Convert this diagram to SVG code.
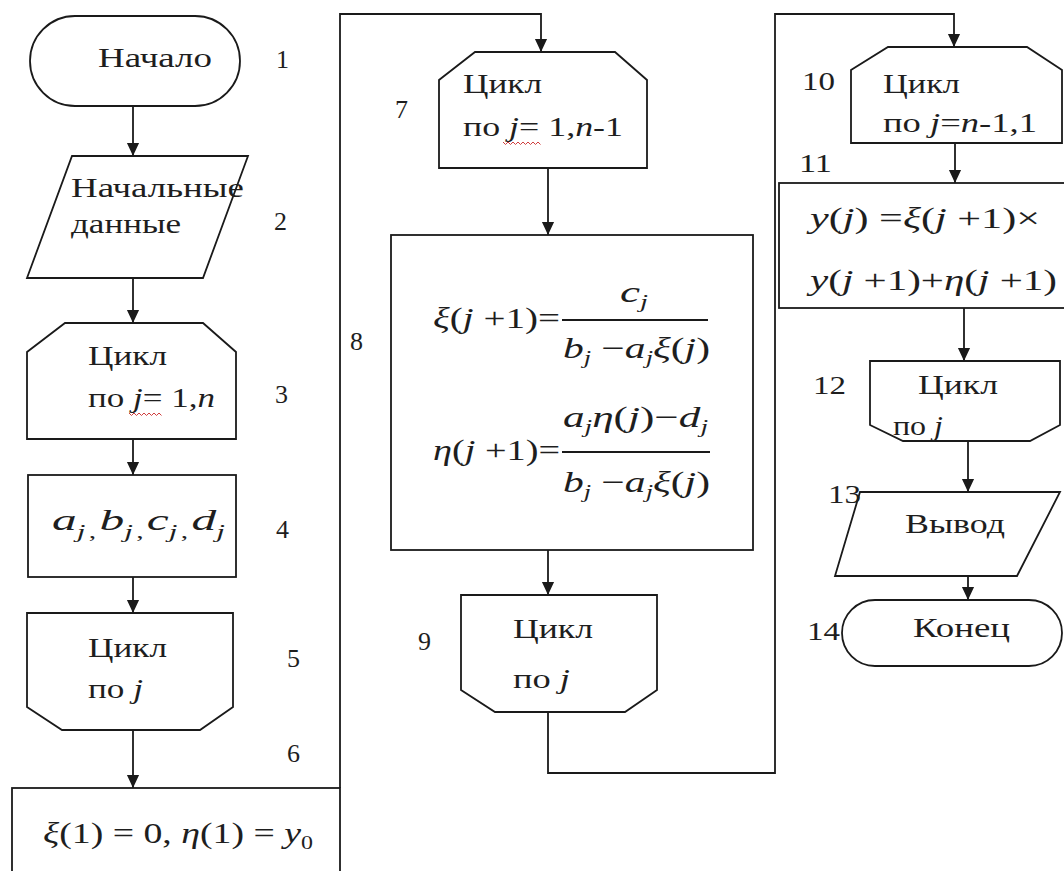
<svg xmlns="http://www.w3.org/2000/svg" width="1064" height="871" viewBox="0 0 1064 871">
<style>
.s{fill:#fff;stroke:#1a1a1a;stroke-width:1.8}
.c{fill:none;stroke:#1a1a1a;stroke-width:1.8}
.t{font-family:'Liberation Serif','DejaVu Serif',serif;font-size:27px;fill:#1e1e1e}
.n{font-family:'Liberation Serif','DejaVu Serif',serif;font-size:26px;fill:#1e1e1e}
.m{font-family:'Liberation Serif','DejaVu Serif',serif;font-size:30px;fill:#1e1e1e}
.i{font-style:italic}
.sub{font-size:19px;font-style:italic}
.w{fill:none;stroke:#d04040;stroke-width:1}
</style>
<defs>
<marker id="a" markerUnits="userSpaceOnUse" markerWidth="14" markerHeight="16" refX="15" refY="7" orient="auto" viewBox="0 0 16 14">
<path d="M0,0 L15,7 L0,14 Z" fill="#1a1a1a"/>
</marker>
</defs>

<g id="connectors">
<path class="c" marker-end="url(#a)" d="M133,107 V156"/>
<path class="c" marker-end="url(#a)" d="M133,278 V323"/>
<path class="c" marker-end="url(#a)" d="M133,439 V475"/>
<path class="c" marker-end="url(#a)" d="M133,577 V613"/>
<path class="c" marker-end="url(#a)" d="M133,730 V788"/>
<path class="c" marker-end="url(#a)" d="M340,788 V14 H541 V52"/>
<path class="c" marker-end="url(#a)" d="M548,168 V235"/>
<path class="c" marker-end="url(#a)" d="M548,550 V595"/>
<path class="c" marker-end="url(#a)" d="M548,712 V773 H775 V14 H954 V47"/>
<path class="c" marker-end="url(#a)" d="M955,143 V183"/>
<path class="c" marker-end="url(#a)" d="M964,308 V361"/>
<path class="c" marker-end="url(#a)" d="M968,441 V492"/>
<path class="c" marker-end="url(#a)" d="M968,576 V600"/>
</g>

<g id="node1">
<rect class="s" x="30" y="16" width="210" height="90" rx="45" ry="45"/>
<text class="t" x="98" y="67" textLength="114" lengthAdjust="spacingAndGlyphs">Начало</text>
<text class="n" x="276" y="68">1</text>
</g>

<g id="node2">
<polygon class="s" points="72,156 248,156 203,278 27,278"/>
<text class="t" x="71" y="197" textLength="173" lengthAdjust="spacingAndGlyphs">Начальные</text>
<text class="t" x="71" y="233" textLength="110" lengthAdjust="spacingAndGlyphs">данные</text>
<text class="n" x="274" y="230">2</text>
</g>

<g id="node3">
<polygon class="s" points="65,323 203,323 236,352 236,439 27,439 27,352"/>
<text class="t" x="88" y="365" textLength="79" lengthAdjust="spacingAndGlyphs">Цикл</text>
<text class="t" x="88" y="407" textLength="127" lengthAdjust="spacingAndGlyphs">по <tspan class="i">j</tspan>= 1,<tspan class="i">n</tspan></text>
<path class="w" d="M129,413 l2.5,2.5 l2.5,-2.5 l2.5,2.5 l2.5,-2.5 l2.5,2.5 l2.5,-2.5 l2.5,2.5 l2.5,-2.5 l2.5,2.5 l2.5,-2.5 l2.5,2.5 l2.5,-2.5 l2.5,2.5"/>
<text class="n" x="275" y="403">3</text>
</g>

<g id="node4">
<rect class="s" x="28" y="475" width="208" height="102"/>
<text class="m" x="52" y="530" textLength="173" lengthAdjust="spacingAndGlyphs"><tspan class="i">a</tspan><tspan class="sub" dy="8">j</tspan><tspan font-size="18" dx="2">,</tspan><tspan class="i" dy="-8" dx="2">b</tspan><tspan class="sub" dy="8">j</tspan><tspan font-size="18" dx="2">,</tspan><tspan class="i" dy="-8" dx="2">c</tspan><tspan class="sub" dy="8">j</tspan><tspan font-size="18" dx="2">,</tspan><tspan class="i" dy="-8" dx="2">d</tspan><tspan class="sub" dy="8">j</tspan></text>
<text class="n" x="276" y="538">4</text>
</g>

<g id="node5">
<polygon class="s" points="27,613 233,613 233,707 200,730 62,730 27,707"/>
<text class="t" x="88" y="657" textLength="79" lengthAdjust="spacingAndGlyphs">Цикл</text>
<text class="t" x="88" y="698" textLength="55" lengthAdjust="spacingAndGlyphs">по <tspan class="i">j</tspan></text>
<text class="n" x="287" y="667">5</text>
</g>

<g id="node6">
<rect class="s" x="12" y="788" width="328" height="95"/>
<text class="m" x="43" y="843" textLength="270" lengthAdjust="spacingAndGlyphs"><tspan class="i">ξ</tspan>(1) = 0, <tspan class="i">η</tspan>(1) = <tspan class="i">y</tspan><tspan font-size="19" dy="6">0</tspan></text>
<text class="n" x="287" y="762">6</text>
</g>

<g id="node7">
<polygon class="s" points="475,52 615,52 647,80 647,168 439,168 439,80"/>
<text class="t" x="463" y="93" textLength="79" lengthAdjust="spacingAndGlyphs">Цикл</text>
<text class="t" x="463" y="136" textLength="160" lengthAdjust="spacingAndGlyphs">по <tspan class="i">j</tspan>= 1,<tspan class="i">n</tspan>-1</text>
<path class="w" d="M503,142 l2.5,2.5 l2.5,-2.5 l2.5,2.5 l2.5,-2.5 l2.5,2.5 l2.5,-2.5 l2.5,2.5 l2.5,-2.5 l2.5,2.5 l2.5,-2.5 l2.5,2.5 l2.5,-2.5 l2.5,2.5 l2.5,-2.5 l2.5,2.5"/>
<text class="n" x="395" y="118">7</text>
</g>

<g id="node8">
<rect class="s" x="391" y="235" width="362" height="315"/>
<text class="m" x="433" y="328" textLength="127" lengthAdjust="spacingAndGlyphs"><tspan class="i">ξ</tspan>(<tspan class="i">j</tspan> +1)=</text>
<text class="m" x="620" y="302" textLength="28" lengthAdjust="spacingAndGlyphs"><tspan class="i">c</tspan><tspan class="sub" dy="6">j</tspan></text>
<line class="c" x1="562" y1="320" x2="708" y2="320"/>
<text class="m" x="563" y="358" textLength="147" lengthAdjust="spacingAndGlyphs"><tspan class="i">b</tspan><tspan class="sub" dy="6">j</tspan><tspan dy="-6"> −</tspan><tspan class="i">a</tspan><tspan class="sub" dy="6">j</tspan><tspan class="i" dy="-6">ξ</tspan>(<tspan class="i">j</tspan>)</text>
<text class="m" x="433" y="460" textLength="127" lengthAdjust="spacingAndGlyphs"><tspan class="i">η</tspan>(<tspan class="i">j</tspan> +1)=</text>
<text class="m" x="563" y="427" textLength="145" lengthAdjust="spacingAndGlyphs"><tspan class="i">a</tspan><tspan class="sub" dy="6">j</tspan><tspan class="i" dy="-6">η</tspan>(<tspan class="i">j</tspan>)−<tspan class="i">d</tspan><tspan class="sub" dy="6">j</tspan></text>
<line class="c" x1="562" y1="452" x2="710" y2="452"/>
<text class="m" x="563" y="492" textLength="147" lengthAdjust="spacingAndGlyphs"><tspan class="i">b</tspan><tspan class="sub" dy="6">j</tspan><tspan dy="-6"> −</tspan><tspan class="i">a</tspan><tspan class="sub" dy="6">j</tspan><tspan class="i" dy="-6">ξ</tspan>(<tspan class="i">j</tspan>)</text>
<text class="n" x="350" y="350">8</text>
</g>

<g id="node9">
<polygon class="s" points="461,595 657,595 657,690 625,712 495,712 461,690"/>
<text class="t" x="513" y="638" textLength="80" lengthAdjust="spacingAndGlyphs">Цикл</text>
<text class="t" x="513" y="688" textLength="57" lengthAdjust="spacingAndGlyphs">по <tspan class="i">j</tspan></text>
<text class="n" x="418" y="650">9</text>
</g>

<g id="node10">
<polygon class="s" points="888,47 1027,47 1062,70 1062,143 851,143 851,70"/>
<text class="t" x="883" y="93" textLength="77" lengthAdjust="spacingAndGlyphs">Цикл</text>
<text class="t" x="883" y="132" textLength="154" lengthAdjust="spacingAndGlyphs">по <tspan class="i">j</tspan>=<tspan class="i">n</tspan>-1,1</text>
<text class="n" x="802" y="90" textLength="33" lengthAdjust="spacingAndGlyphs">10</text>
</g>

<g id="node11">
<rect class="s" x="779" y="183" width="300" height="125"/>
<text class="m" x="810" y="228" textLength="230" lengthAdjust="spacingAndGlyphs"><tspan class="i">y</tspan>(<tspan class="i">j</tspan>) =<tspan class="i">ξ</tspan>(<tspan class="i">j</tspan> +1)×</text>
<text class="m" x="810" y="290" textLength="247" lengthAdjust="spacingAndGlyphs"><tspan class="i">y</tspan>(<tspan class="i">j</tspan> +1)+<tspan class="i">η</tspan>(<tspan class="i">j</tspan> +1)</text>
<text class="n" x="799" y="172" textLength="33" lengthAdjust="spacingAndGlyphs">11</text>
</g>

<g id="node12">
<polygon class="s" points="870,361 1060,361 1060,425 1030,441 903,441 870,425"/>
<text class="t" x="918" y="394" textLength="80" lengthAdjust="spacingAndGlyphs">Цикл</text>
<text class="t" x="893" y="435" textLength="50" lengthAdjust="spacingAndGlyphs">по <tspan class="i">j</tspan></text>
<text class="n" x="813" y="394" textLength="33" lengthAdjust="spacingAndGlyphs">12</text>
</g>

<g id="node13">
<polygon class="s" points="860,492 1060,492 1017,576 835,576"/>
<text class="t" x="905" y="533" textLength="100" lengthAdjust="spacingAndGlyphs">Вывод</text>
<text class="n" x="828" y="503" textLength="33" lengthAdjust="spacingAndGlyphs">13</text>
</g>

<g id="node14">
<rect class="s" x="842" y="600" width="220" height="66" rx="33" ry="33"/>
<text class="t" x="913" y="637" textLength="97" lengthAdjust="spacingAndGlyphs">Конец</text>
<text class="n" x="807" y="640" textLength="33" lengthAdjust="spacingAndGlyphs">14</text>
</g>
</svg>
